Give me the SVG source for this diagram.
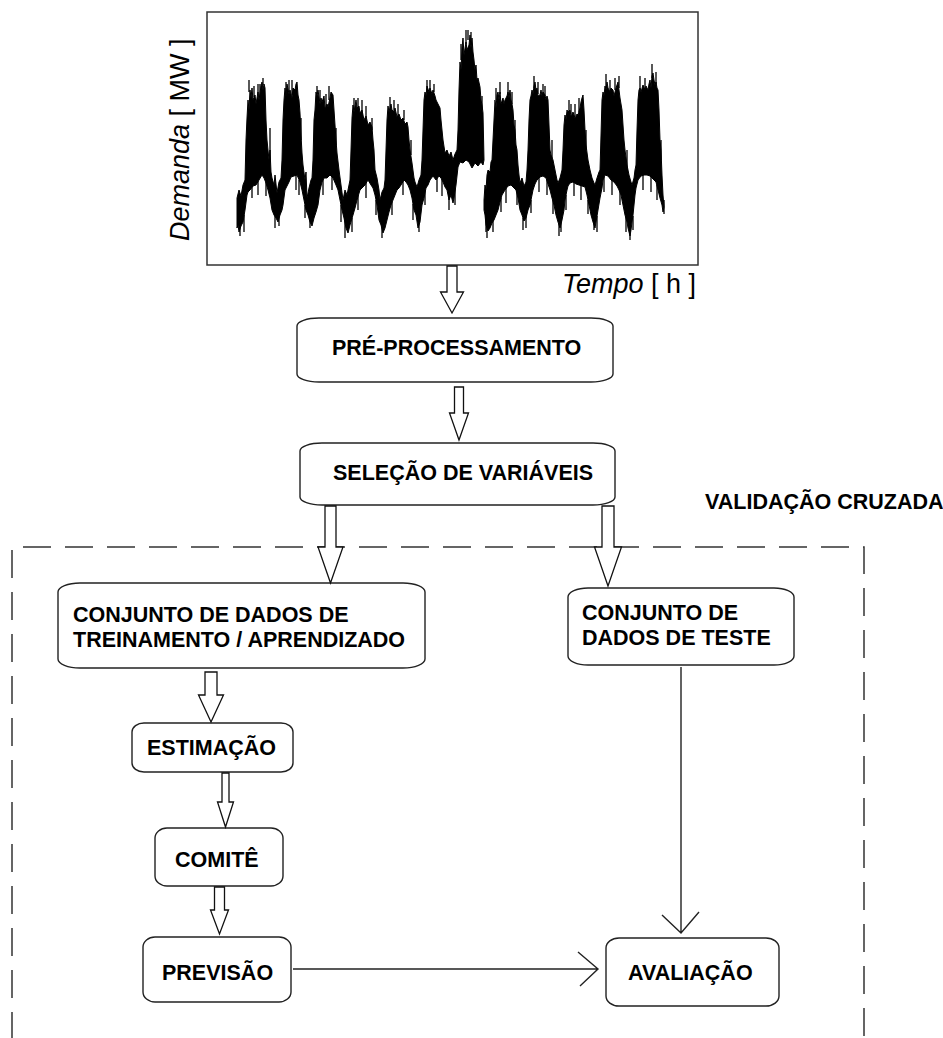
<svg xmlns="http://www.w3.org/2000/svg" width="943" height="1038" viewBox="0 0 943 1038">
<style>
.box{fill:#fff;stroke:#222;stroke-width:1.4}
.lbl{font-family:"Liberation Sans",Arial,sans-serif;font-weight:bold;font-size:21.5px;fill:#000}
.ax{font-family:"Liberation Sans",Arial,sans-serif;font-size:27px;fill:#000}
.blk{fill:#fff;stroke:#111;stroke-width:1.3;stroke-linejoin:miter}
.ln{fill:none;stroke:#222;stroke-width:1.4}
.wave{fill:#000;stroke:#000;stroke-width:1}
.spk{fill:none;stroke:#000;stroke-width:1.3}
</style>
<rect width="943" height="1038" fill="#fff"/>

<g id="chart">
<rect x="207" y="12" width="491" height="253" fill="#fff" stroke="#333" stroke-width="1.5"/>
<path class="wave" d="M237,198 L239,190 L241,196 L243,185 L245,180 L246,140 L247,118 L248,100 L249,110 L250,90 L251,98 L252,88 L253,100 L255,95 L256,104 L258,92 L259,100 L261,86 L262,82 L263,90 L264,84 L265,88 L266,120 L267,140 L268,150 L269,160 L270,150 L271,172 L272,178 L274,185 L275,175 L277,193 L279,182 L281,178 L282,160 L283,120 L284,100 L285,88 L286,96 L287,84 L289,94 L290,90 L292,98 L293,88 L295,90 L296,84 L297,82 L298,95 L299,100 L300,113 L301,135 L302,153 L303,165 L305,180 L306,172 L307,198 L309,188 L311,180 L312,178 L313,160 L314,120 L315,110 L316,92 L317,96 L318,90 L320,104 L321,98 L322,102 L324,96 L325,108 L327,104 L328,107 L330,98 L331,92 L333,95 L334,110 L335,125 L336,140 L337,153 L339,170 L341,185 L343,200 L345,190 L347,195 L349,185 L350,180 L351,150 L352,118 L353,105 L354,112 L356,100 L357,108 L359,106 L360,113 L362,110 L364,120 L366,116 L368,125 L370,122 L372,127 L373,140 L374,150 L375,170 L377,178 L379,190 L380,200 L382,192 L384,188 L385,180 L386,150 L387,120 L388,106 L389,112 L391,104 L392,110 L394,112 L395,108 L397,117 L399,114 L401,120 L403,118 L405,124 L407,122 L408,127 L409,140 L410,150 L412,163 L414,178 L415,182 L417,187 L419,180 L421,175 L422,160 L423,130 L424,100 L425,92 L426,96 L427,86 L429,92 L430,88 L432,94 L433,90 L435,96 L436,100 L438,104 L440,108 L441,120 L443,140 L445,153 L447,150 L449,156 L451,152 L453,160 L455,154 L457,150 L458,130 L459,90 L460,62 L461,70 L462,48 L463,38 L464,55 L466,42 L467,50 L469,45 L470,35 L471,48 L472,38 L473,52 L474,60 L475,70 L476,65 L477,80 L478,78 L480,87 L481,100 L482,105 L483,113 L484,160 L483,165 L481,162 L478,166 L475,163 L472,168 L469,162 L466,160 L463,163 L460,162 L458,167 L456,185 L454,198 L453,203 L451,195 L449,200 L447,190 L445,187 L443,182 L441,178 L439,176 L436,180 L433,176 L430,180 L428,185 L426,188 L424,198 L422,205 L420,222 L418,228 L416,215 L414,210 L412,198 L410,190 L408,185 L406,182 L404,180 L401,185 L399,188 L397,190 L395,195 L393,200 L391,205 L389,212 L387,220 L385,228 L383,233 L381,225 L379,220 L377,205 L375,195 L373,188 L371,185 L368,180 L365,185 L362,188 L360,190 L357,200 L355,208 L353,215 L350,225 L348,233 L346,228 L344,218 L342,210 L340,200 L338,190 L336,185 L333,178 L330,175 L327,178 L324,178 L322,182 L320,190 L318,205 L316,212 L314,218 L312,226 L310,222 L308,215 L306,210 L304,200 L302,190 L300,182 L297,175 L294,176 L291,177 L289,182 L287,186 L285,190 L283,205 L282,210 L280,215 L278,222 L276,218 L274,215 L272,210 L270,198 L268,190 L266,183 L264,178 L262,175 L259,180 L256,185 L253,186 L250,190 L248,192 L247,195 L245,210 L243,222 L241,226 L239,232 L238,225 L237,228 Z"/>
<path class="wave" d="M484,200 L485,185 L486,190 L487,175 L488,170 L490,172 L491,162 L492,160 L493,140 L494,120 L495,100 L496,108 L497,95 L498,92 L499,100 L500,92 L501,104 L503,98 L504,104 L505,100 L507,96 L508,92 L509,98 L510,90 L511,100 L512,104 L513,110 L514,125 L515,130 L516,145 L517,150 L518,165 L519,175 L520,183 L522,178 L524,186 L526,182 L527,170 L528,150 L529,120 L530,100 L531,96 L532,90 L533,94 L534,86 L535,82 L536,90 L537,88 L538,96 L540,95 L541,90 L542,96 L543,92 L545,95 L546,100 L547,96 L548,100 L549,125 L550,150 L551,155 L553,160 L555,170 L557,180 L558,183 L560,178 L562,170 L563,150 L564,125 L565,115 L566,120 L567,110 L568,112 L570,110 L571,116 L573,112 L575,118 L577,114 L578,115 L580,108 L581,102 L582,98 L583,95 L584,110 L585,130 L586,145 L588,160 L590,170 L592,178 L594,183 L595,185 L597,178 L599,172 L600,170 L601,135 L602,100 L603,92 L604,96 L605,86 L606,90 L607,82 L608,88 L610,92 L611,88 L613,90 L614,96 L616,88 L617,85 L618,82 L619,90 L620,98 L621,104 L622,110 L623,125 L624,140 L625,150 L627,165 L629,175 L631,182 L632,185 L634,178 L635,170 L636,165 L637,130 L638,100 L639,90 L640,88 L641,92 L643,85 L645,90 L646,86 L648,90 L649,84 L650,80 L651,88 L652,76 L653,73 L654,80 L655,85 L656,82 L657,88 L658,90 L659,110 L660,140 L661,150 L662,175 L663,195 L664,207 L663,212 L662,205 L660,198 L658,190 L656,182 L654,180 L652,178 L650,176 L647,175 L644,175 L641,176 L638,180 L636,188 L635,195 L634,205 L633,215 L632,222 L631,230 L630,236 L628,228 L627,222 L625,215 L623,205 L621,195 L619,190 L617,186 L614,182 L611,180 L608,176 L605,175 L603,180 L602,188 L600,198 L598,210 L596,222 L595,228 L593,222 L591,215 L589,205 L587,195 L585,187 L582,186 L579,185 L576,184 L573,182 L570,183 L568,186 L567,190 L565,200 L564,210 L562,220 L560,228 L558,222 L556,215 L554,205 L552,198 L550,190 L548,184 L546,178 L543,176 L540,177 L537,180 L535,184 L533,190 L532,195 L530,205 L528,210 L526,218 L524,221 L522,215 L520,210 L518,198 L516,190 L514,188 L511,185 L508,186 L505,190 L502,195 L500,202 L498,210 L496,215 L494,220 L492,223 L490,228 L488,231 L486,225 L485,215 L484,210 Z"/>
<path class="spk" d="M240,200V236 M244,215V232 M249,92V80 M258,95V84 M263,85V78 M270,160V128 M279,200V226 M286,95V82 M292,95V80 M301,140V118 M310,200V228 M317,94V86 M329,100V86 M336,145V128 M345,200V238 M354,110V98 M362,115V100 M372,130V118 M382,200V238 M390,110V97 M398,118V104 M411,155V140 M419,200V232 M427,90V80 M434,92V84 M449,195V210 M461,60V44 M468,40V30 M471,45V32 M482,110V96 M486,210V232 M490,200V224 M496,100V88 M508,95V82 M515,140V120 M526,200V228 M534,88V76 M543,96V84 M552,158V140 M561,200V232 M569,114V100 M579,112V98 M586,150V130 M594,200V230 M606,88V74 M615,90V78 M627,170V150 M630,205V240 M640,90V76 M652,78V64 M661,160V140 M664,200V214"/>
<path class="spk" stroke-width="1" d="M252,185V198 M258,181V195 M266,182V196 M275,214V228 M296,174V190 M299,180V195 M305,205V218 M323,179V195 M332,175V190 M341,205V222 M352,218V232 M358,195V210 M366,183V198 M376,200V215 M392,202V215 M403,179V195 M413,204V220 M425,190V205 M437,177V192 M442,179V196 M455,188V205 M487,226V238 M493,220V232 M501,198V212 M506,187V203 M517,190V205 M523,218V230 M531,200V213 M539,177V192 M547,180V195 M553,200V214 M559,224V236 M566,195V210 M574,181V196 M581,185V200 M588,200V214 M597,216V232 M604,177V192 M612,180V195 M620,190V205 M626,216V232 M633,216V230 M643,174V190 M651,176V192 M657,185V200 M254,97V86 M260,98V84 M289,92V80 M320,100V90 M326,106V94 M358,108V98 M366,118V106 M394,112V100 M404,120V110 M430,90V80 M466,44V30 M500,94V82 M512,104V92 M538,94V82 M545,96V86 M571,114V104 M575,116V104 M610,92V80 M619,88V76 M645,90V78 M656,84V72"/>
<text class="ax" transform="translate(189,241) rotate(-90)"><tspan font-style="italic">Demanda</tspan> [ MW ]</text>
<text class="ax" x="562" y="293"><tspan font-style="italic">Tempo</tspan> [ h ]</text>
</g>

<g id="validacao">
<path d="M12,1040 V547 H864 V1040" fill="none" stroke="#333" stroke-width="1.5" stroke-dasharray="28 14"/>
<text class="lbl" x="705" y="509" font-size="21.3">VALIDAÇÃO CRUZADA</text>
</g>

<g id="preprocessamento">
<rect class="box" x="297" y="318" width="316" height="64" rx="22" ry="8"/>
<text class="lbl" x="332" y="355" font-size="22">PRÉ-PROCESSAMENTO</text>
</g>

<g id="selecao">
<rect class="box" x="300" y="443" width="315" height="62" rx="22" ry="8"/>
<text class="lbl" x="333" y="480">SELEÇÃO DE VARIÁVEIS</text>
</g>

<g id="treinamento">
<rect class="box" x="58" y="583" width="367" height="85" rx="22" ry="9"/>
<text class="lbl" x="73" y="622">CONJUNTO DE DADOS DE</text>
<text class="lbl" x="73" y="647">TREINAMENTO / APRENDIZADO</text>
</g>

<g id="teste">
<rect class="box" x="568" y="588" width="226" height="77" rx="20" ry="9"/>
<text class="lbl" x="582" y="620">CONJUNTO DE</text>
<text class="lbl" x="582" y="645">DADOS DE TESTE</text>
</g>

<g id="estimacao">
<rect class="box" x="132" y="723" width="161" height="49" rx="12" ry="9"/>
<text class="lbl" x="147" y="755">ESTIMAÇÃO</text>
</g>

<g id="comite">
<rect class="box" x="155" y="828" width="128" height="58" rx="12" ry="10"/>
<text class="lbl" x="175" y="867">COMITÊ</text>
</g>

<g id="previsao">
<rect class="box" x="143" y="937" width="148" height="65" rx="12" ry="10"/>
<text class="lbl" x="162" y="980">PREVISÃO</text>
</g>

<g id="avaliacao">
<rect class="box" x="606" y="938" width="173" height="68" rx="13" ry="10"/>
<text class="lbl" x="628" y="980">AVALIAÇÃO</text>
</g>

<g id="connectors">
<path class="blk" d="M447,266 H457 V292 H463.5 L452,313 L440.5,292 H447 Z"/>
<path class="blk" d="M454.5,387 H463.5 V413 H468.5 L459,440 L449.5,413 H454.5 Z"/>
<path class="blk" d="M325,506 H336 V547 H343 L330.5,583 L318,547 H325 Z"/>
<path class="blk" d="M602,506 H614 V547 H621.5 L608,586 L594.5,547 H602 Z"/>
<path class="blk" d="M205,672 H217 V695 H223.5 L211,722 L198.5,695 H205 Z"/>
<path class="blk" d="M222,773 H229 V802 H233.5 L225.5,827 L217.5,802 H222 Z"/>
<path class="blk" d="M214.5,887 H224.5 V910 H228.5 L219.5,934 L210.5,910 H214.5 Z"/>
<path class="ln" d="M681,667 V933 M662,915 L681,933 L699,912"/>
<path class="ln" d="M293,969 H598 M578,952 L598,969 L580,986"/>
</g>
</svg>
